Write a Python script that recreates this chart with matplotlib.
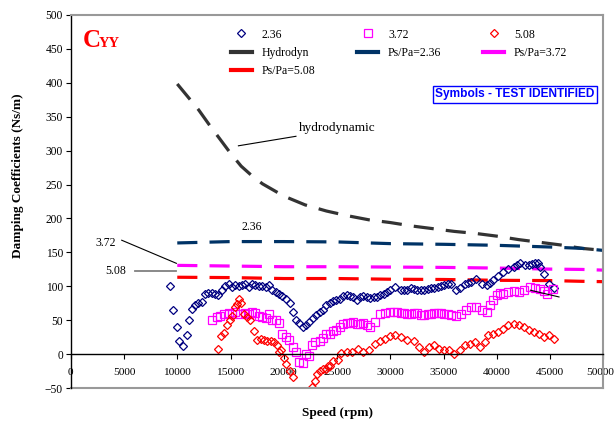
import matplotlib
matplotlib.use("Agg")
import matplotlib.pyplot as plt
from matplotlib.lines import Line2D
from matplotlib.transforms import ScaledTranslation
import numpy as np

plt.rcParams['font.family'] = ['Liberation Serif', 'DejaVu Serif']

# ---- test identified (symbols) ----
s236_x = [9335, 9620, 9934, 10190, 10540, 10880, 11140, 11400, 11640, 11960, 12280, 12590, 12920, 13230,
          13540, 13860, 14170, 14490, 14810, 15130, 15440, 15760, 16080, 16400, 16710, 17030, 17340, 17660,
          17970, 18290, 18610, 18920, 19240, 19560, 19870, 20190, 20570, 20820, 21140, 21460, 21770, 22090,
          22410, 22720, 23040, 23360, 23670, 23990, 24310, 24620, 24940, 25260, 25570, 25890, 26210, 26530,
          26840, 27160, 27470, 27790, 28110, 28420, 28740, 29050, 29370, 29690, 30010, 30480, 30960, 31270,
          31590, 31900, 32220, 32540, 32860, 33170, 33490, 33810, 34120, 34440, 34760, 35070, 35390, 35710,
          36180, 36500, 36970, 37290, 37610, 38080, 38560, 39030, 39350, 39660, 40130, 40610, 41080, 41560,
          41870, 42190, 42670, 43000, 43300, 43620, 43870, 44090, 44400, 44880, 45360]
s236_y = [100, 65, 41, 20, 13, 28, 51, 67, 72, 75, 77, 89.5, 90.5, 91,
          89, 87, 95, 100, 103, 99, 102, 100, 102, 103, 99, 103, 102, 100,
          100, 99, 102, 95, 92, 89.5, 86, 81, 75, 62, 50, 45.5, 41, 43,
          48, 53, 58, 62, 66, 72, 75, 78, 80, 82, 86, 87, 86.5, 84,
          80.6, 84, 86.5, 84, 82.7, 84, 84.6, 87, 89.5, 92, 94.4, 99, 94.4, 95,
          95, 97, 96.5, 95, 94.4, 94.4, 96, 98.3, 98, 99, 101, 102, 103, 103,
          95.4, 98, 104, 105, 106, 111.6, 103, 102, 105, 109, 115, 121, 126, 129,
          132, 135, 131, 132, 133, 134, 135, 128, 119, 104, 97]

s372_x = [13230, 13700, 14020, 14340, 14810, 15130, 15440, 15920, 16400, 16710, 17030, 17340, 17660, 17970,
          18290, 18610, 18920, 19240, 19560, 19810, 20190, 20500, 20820, 21140, 21460, 21830, 22090, 22410,
          22660, 22970, 23360, 23670, 23990, 24310, 24620, 24940, 25260, 25580, 25890, 26210, 26530, 26840,
          27160, 27470, 27790, 28110, 28580, 29050, 29530, 30010, 30320, 30640, 30960, 31270, 31590, 31900,
          32220, 32530, 32860, 33170, 33490, 33810, 34120, 34440, 34760, 35070, 35390, 35710, 36180, 36660,
          37130, 37610, 38080, 38560, 39030, 39350, 39660, 39980, 40300, 40610, 41080, 41560, 42030, 42510,
          43140, 43620, 44090, 44410, 44730, 45260]
s372_y = [51, 55, 57, 60, 61, 60, 62.5, 60, 61, 59, 62.5, 61, 57, 55,
          53, 60, 50.6, 50.6, 46, 30.5, 26, 21, 10.8, 3.4, -11.3, -12.3, 1, -2.3,
          13.3, 17.7, 19.7, 24.6, 30, 30.5, 33.9, 35.4, 40, 45, 46, 46, 47, 45,
          44, 46, 43, 41, 47.7, 59, 60.7, 61.7, 62, 62, 61, 60.7, 60, 59.7,
          60.7, 61, 57.5, 58, 59.6, 60, 60.7, 61, 60.7, 60, 59.6, 58, 56, 59.6,
          65, 69, 70, 66, 62, 72, 79.6, 87, 90.5, 89.5, 92, 93.4, 92, 94.4,
          99, 98, 96.5, 93, 88.5, 95.5]

s508_x = [13870, 14120, 14430, 14650, 14970, 15130, 15380, 15600, 15760, 16010, 16240, 16550, 16870, 17190,
          17500, 17820, 18140, 18450, 18770, 19090, 19400, 19560, 19720, 20040, 20190, 20570, 20830, 22600,
          22890, 23110, 23360, 23680, 23990, 24150, 24370, 24630, 25100, 25410, 25890, 26360, 27000, 27470,
          27950, 28580, 29050, 29530, 30010, 30480, 30960, 31590, 32220, 32700, 33170, 33650, 34120, 34600,
          35070, 35550, 36020, 36500, 36970, 37450, 37920, 38400, 38870, 39190, 39660, 40130, 40610, 41080,
          41560, 42030, 42510, 42980, 43460, 43930, 44410, 44880, 45360]
s508_y = [7.4, 26.5, 31.4, 42.8, 50, 57, 69.8, 74.7, 82, 75.7, 59.5, 55, 50, 34,
          20.6, 22, 20.6, 20, 19.7, 18, 13.3, 3, 5.9, -6, -13.8, -24.6, -33, -48,
          -39.8, -29.3, -25, -21, -21.3, -17.6, -16.7, -10, -8, 2, 4, 3, 8.4, 3.4,
          5.9, 15.7, 19.7, 23, 26.5, 28, 25.6, 21.5, 19, 10.8, 3.4, 10.8, 13.3, 8.4,
          5.9, 6.9, 1, 5.9, 13.3, 15.7, 18, 10.8, 18, 28, 30.5, 33, 37.9, 42.8,
          45.3, 42.8, 40, 35.4, 33, 30.5, 25.6, 28, 23]

# ---- predictions (lines) ----
hydro_x = [10000, 11000, 12000, 13000, 14000, 15000, 16000, 17000, 18000, 20000, 22000, 24000, 26000,
           28000, 30000, 32000, 34000, 36000, 38000, 40000, 42000, 44000, 46000, 48000, 50000]
hydro_y = [398, 379, 360, 338, 317, 296, 277, 263, 251, 233, 220, 211, 204,
           198, 194, 189, 185, 181, 178, 174, 169, 165, 161, 156, 153]

pred_x = [10000, 15000, 20000, 25000, 30000, 35000, 40000, 45000, 48000, 50000]
pred236 = [164, 166, 166, 165.5, 163, 162, 160.5, 158, 156, 153]
pred372 = [131, 130, 129, 129, 128.5, 128, 127, 125.5, 125, 124]
pred508 = [113.5, 113, 111.6, 111.6, 110.6, 110.2, 109, 108.6, 107.5, 107]

fig = plt.figure(figsize=(6.15, 4.22), dpi=100)
ax = fig.add_axes([0.115, 0.0798, 0.8662, 0.8854])
ax.set_xlim(0, 50000)
ax.set_ylim(-50, 500)

dash = (0, (6.3, 3.8))
lw = 2.3
l_h, = ax.plot(hydro_x, hydro_y, color='#333333', lw=lw, ls=dash)
l_236, = ax.plot(pred_x, pred236, color='#003366', lw=lw, ls=dash)
l_372, = ax.plot(pred_x, pred372, color='#FF00FF', lw=lw, ls=dash)
l_508, = ax.plot(pred_x, pred508, color='#FF0000', lw=lw, ls=dash)

m236, = ax.plot(s236_x, s236_y, ls='none', marker='D', ms=4, mfc='none', mec='#000080', mew=0.9)
m372, = ax.plot(s372_x, s372_y, ls='none', marker='s', ms=5.5, mfc='none', mec='#FF00FF', mew=0.9)
m508, = ax.plot(s508_x, s508_y, ls='none', marker='D', ms=4, mfc='none', mec='#FF0000', mew=0.9)

# Axes styling (Excel look)
ax.spines['bottom'].set_position(('data', 0))
ax.spines['bottom'].set_color('black')
ax.spines['bottom'].set_linewidth(1.0)
ax.spines['left'].set_color('black')
ax.spines['left'].set_linewidth(1.0)
for s in ('top', 'right'):
    ax.spines[s].set_color('#999999')
    ax.spines[s].set_linewidth(1.5)
ax.axhline(-50, color='#999999', lw=1.5, clip_on=False)

ax.set_xticks(np.arange(0, 50001, 5000))
ax.set_yticks(np.arange(-50, 501, 50))
ax.tick_params(axis='x', direction='out', length=3.5, width=0.8, pad=6, labelsize=8.2)
ax.tick_params(axis='y', direction='out', length=3.5, width=0.8, pad=2, labelsize=8.3)
# keep the last x tick label inside the canvas
last = ax.get_xticklabels()[-1]
last.set_transform(last.get_transform() + ScaledTranslation(-3 / 100, 0, fig.dpi_scale_trans))

ax.set_xlabel('Speed (rpm)', fontsize=9.5, fontweight='bold', labelpad=0)
ax.xaxis.set_label_coords(0.5, -0.05)
ax.set_ylabel('Damping Coefficients (Ns/m)', fontsize=9.5, fontweight='bold')
ax.yaxis.set_label_coords(-0.088, 0.568)

# Title label C_YY
fig.text(82.5 / 615, 1 - 47 / 422, 'C', color='red', fontsize=18, fontweight='bold', ha='left', va='baseline')
fig.text(99 / 615, 1 - 47 / 422, 'YY', color='red', fontsize=10.5, fontweight='bold', ha='left', va='baseline')

# Legend
sol = dict(lw=3, ls='-')
handles = [m236, m372, m508,
           Line2D([], [], color='#333333', **sol), Line2D([], [], color='#003366', **sol),
           Line2D([], [], color='#FF00FF', **sol), Line2D([], [], color='#FF0000', **sol)]
labels = ['2.36', '3.72', '5.08', 'Hydrodyn', 'Ps/Pa=2.36', 'Ps/Pa=3.72', 'Ps/Pa=5.08']
# row-major ordering for ncol=3 -> matplotlib fills column-major, so reorder
order = [0, 3, 6, 1, 4, 2, 5]
leg = ax.legend([handles[i] for i in order], [labels[i] for i in order], ncol=3,
                loc='upper left', bbox_to_anchor=(231 / 615, 1 - 28.5 / 422),
                bbox_transform=fig.transFigure, frameon=False, fontsize=8.5,
                handlelength=1.75, handletextpad=0.85, columnspacing=3.55,
                labelspacing=0.55, borderpad=0, borderaxespad=0)

# Box label
fig.text(515 / 615, 1 - 94.5 / 422, 'Symbols - TEST IDENTIFIED', family='Liberation Sans',
         fontsize=8.6, fontweight='bold', color='#0000FF', ha='center', va='center',
         bbox=dict(boxstyle='square,pad=0.2', fc='white', ec='#0000FF', lw=1.0))

# Annotations
ax.text(17030, 188, '2.36', fontsize=8.5, ha='center', va='center')
ax.text(3257, 163.5, '3.72', fontsize=8.5, ha='center', va='center')
ax.plot([4786, 9915], [168, 134], color='black', lw=0.8)
ax.text(4207, 122.4, '5.08', fontsize=8.5, ha='center', va='center')
ax.plot([6010, 9840], [122.4, 122.4], color='#808080', lw=1.3)
ax.text(21390, 333, 'hydrodynamic', fontsize=9.5, ha='left', va='center')
ax.plot([15740, 21140], [307, 321], color='black', lw=0.8)
ax.plot([43150, 45830], [94.4, 84.5], color='black', lw=0.8)

fig.savefig('out.png', dpi=100)
